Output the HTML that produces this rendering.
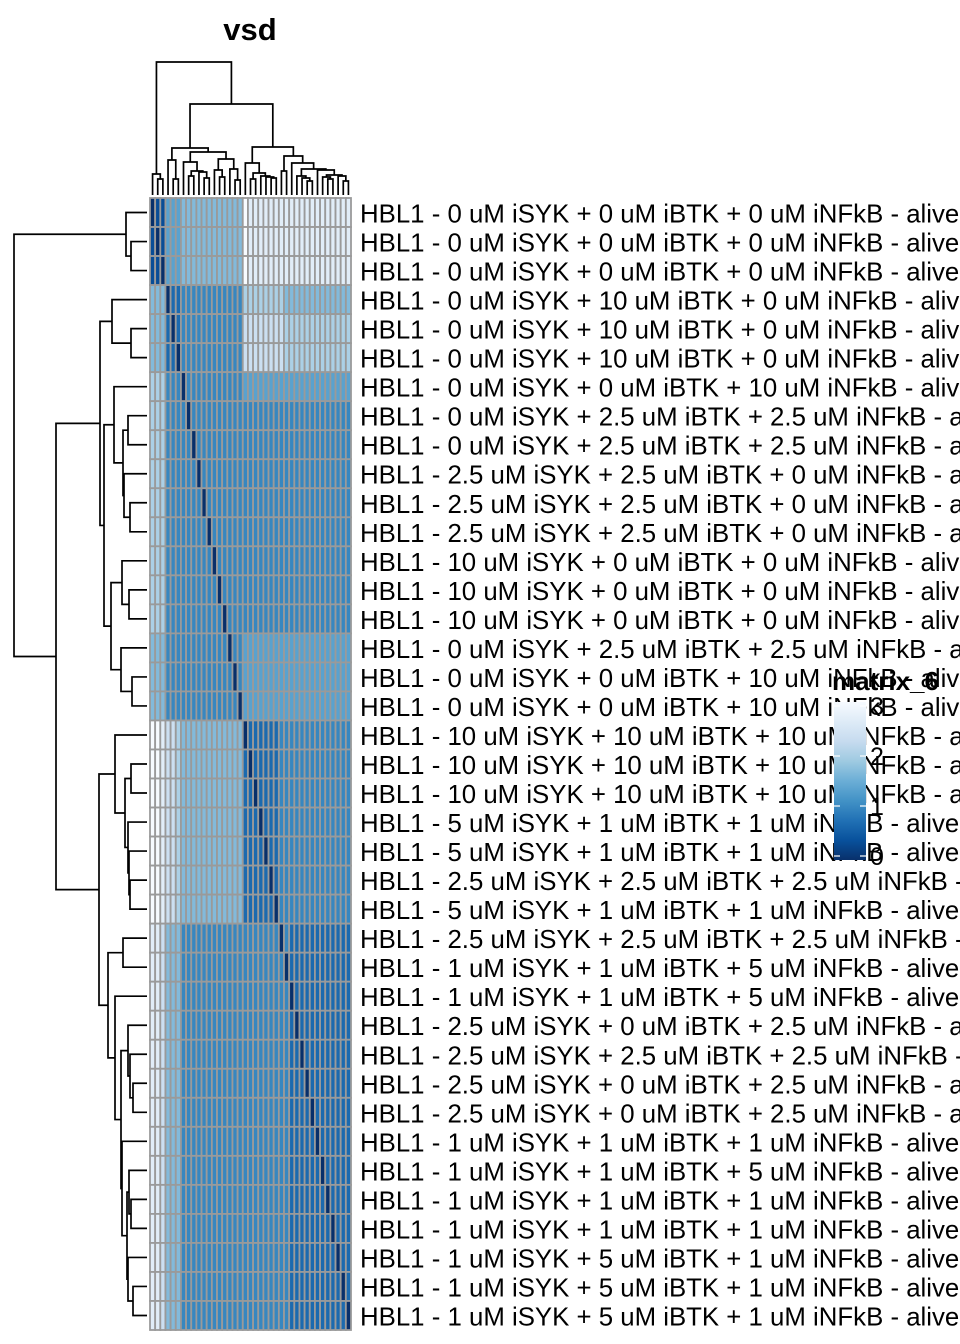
<!DOCTYPE html>
<html><head><meta charset="utf-8"><style>
html,body{margin:0;padding:0;background:#fff;}
svg{display:block;font-family:"Liberation Sans",Arial,sans-serif;}
</style></head><body>
<svg id="chart" width="960" height="1344" viewBox="0 0 960 1344">
<text x="250" y="40" text-anchor="middle" font-size="31" font-weight="bold">vsd</text>
<g id="rowdend"></g>
<g id="coldend"></g>
<g id="cells"></g>
<g id="labels"></g>
<g id="legend"></g>
</svg>
<script>
// matrix values: each digit d -> value d/3 (range 0..3)
const matrixRows = [
"011444555555555555988888888888888888888",
"101444555555555555988888888888888888888",
"110444555555555555988888888888888888888",
"555022333333333333666666665555555555555",
"555202333333333333777777776666666666666",
"555220333333333333777777776666666666666",
"666333033333333333444444444444444444444",
"666333303333333333333333333333333333333",
"666333330333333333333333333333333333333",
"666333333033333333333333333333333333333",
"666333333303333333333333333333333333333",
"666333333330333333333333333333333333333",
"666333333333033333333333333333333333333",
"666333333333303333333333333333333333333",
"666333333333330333333333333333333333333",
"555333333333333033444444444444444444444",
"555333333333333303444444444444444444444",
"555333333333333330444444444444444444444",
"998776555555555555022222233333333333333",
"998776555555555555202222233333333333333",
"998776555555555555220222233333333333333",
"998776555555555555222022233333333333333",
"998776555555555555222202233333333333333",
"998776555555555555222220233333333333333",
"998776555555555555222222033333333333333",
"887555333333333333333333303222222222222",
"887555333333333333333333330222222222222",
"887555333333333333333333333022222222222",
"887555333333333333333333333202222222222",
"887555333333333333333333333220222222222",
"887555333333333333333333333222022222222",
"887555333333333333333333333222202222222",
"887555333333333333333333333222220222222",
"887555333333333333333333333222222022222",
"887555333333333333333333333222222202222",
"887555333333333333333333333222222220222",
"887555333333333333333333333222222222022",
"887555333333333333333333333222222222202",
"887555333333333333333333333222222222220"
];
const rowLabels = [
"HBL1 - 0 uM iSYK + 0 uM iBTK + 0 uM iNFkB - alive",
"HBL1 - 0 uM iSYK + 0 uM iBTK + 0 uM iNFkB - alive",
"HBL1 - 0 uM iSYK + 0 uM iBTK + 0 uM iNFkB - alive",
"HBL1 - 0 uM iSYK + 10 uM iBTK + 0 uM iNFkB - alive",
"HBL1 - 0 uM iSYK + 10 uM iBTK + 0 uM iNFkB - alive",
"HBL1 - 0 uM iSYK + 10 uM iBTK + 0 uM iNFkB - alive",
"HBL1 - 0 uM iSYK + 0 uM iBTK + 10 uM iNFkB - alive",
"HBL1 - 0 uM iSYK + 2.5 uM iBTK + 2.5 uM iNFkB - alive",
"HBL1 - 0 uM iSYK + 2.5 uM iBTK + 2.5 uM iNFkB - alive",
"HBL1 - 2.5 uM iSYK + 2.5 uM iBTK + 0 uM iNFkB - alive",
"HBL1 - 2.5 uM iSYK + 2.5 uM iBTK + 0 uM iNFkB - alive",
"HBL1 - 2.5 uM iSYK + 2.5 uM iBTK + 0 uM iNFkB - alive",
"HBL1 - 10 uM iSYK + 0 uM iBTK + 0 uM iNFkB - alive",
"HBL1 - 10 uM iSYK + 0 uM iBTK + 0 uM iNFkB - alive",
"HBL1 - 10 uM iSYK + 0 uM iBTK + 0 uM iNFkB - alive",
"HBL1 - 0 uM iSYK + 2.5 uM iBTK + 2.5 uM iNFkB - alive",
"HBL1 - 0 uM iSYK + 0 uM iBTK + 10 uM iNFkB - alive",
"HBL1 - 0 uM iSYK + 0 uM iBTK + 10 uM iNFkB - alive",
"HBL1 - 10 uM iSYK + 10 uM iBTK + 10 uM iNFkB - alive",
"HBL1 - 10 uM iSYK + 10 uM iBTK + 10 uM iNFkB - alive",
"HBL1 - 10 uM iSYK + 10 uM iBTK + 10 uM iNFkB - alive",
"HBL1 - 5 uM iSYK + 1 uM iBTK + 1 uM iNFkB - alive",
"HBL1 - 5 uM iSYK + 1 uM iBTK + 1 uM iNFkB - alive",
"HBL1 - 2.5 uM iSYK + 2.5 uM iBTK + 2.5 uM iNFkB - alive",
"HBL1 - 5 uM iSYK + 1 uM iBTK + 1 uM iNFkB - alive",
"HBL1 - 2.5 uM iSYK + 2.5 uM iBTK + 2.5 uM iNFkB - alive",
"HBL1 - 1 uM iSYK + 1 uM iBTK + 5 uM iNFkB - alive",
"HBL1 - 1 uM iSYK + 1 uM iBTK + 5 uM iNFkB - alive",
"HBL1 - 2.5 uM iSYK + 0 uM iBTK + 2.5 uM iNFkB - alive",
"HBL1 - 2.5 uM iSYK + 2.5 uM iBTK + 2.5 uM iNFkB - alive",
"HBL1 - 2.5 uM iSYK + 0 uM iBTK + 2.5 uM iNFkB - alive",
"HBL1 - 2.5 uM iSYK + 0 uM iBTK + 2.5 uM iNFkB - alive",
"HBL1 - 1 uM iSYK + 1 uM iBTK + 1 uM iNFkB - alive",
"HBL1 - 1 uM iSYK + 1 uM iBTK + 5 uM iNFkB - alive",
"HBL1 - 1 uM iSYK + 1 uM iBTK + 1 uM iNFkB - alive",
"HBL1 - 1 uM iSYK + 1 uM iBTK + 1 uM iNFkB - alive",
"HBL1 - 1 uM iSYK + 5 uM iBTK + 1 uM iNFkB - alive",
"HBL1 - 1 uM iSYK + 5 uM iBTK + 1 uM iNFkB - alive",
"HBL1 - 1 uM iSYK + 5 uM iBTK + 1 uM iNFkB - alive"
];
// dendrogram: [height, left, right]; leaves are indices
const dendroTree = [136,
  [24, 0, [19, 1, 2]],
  [94,
    [50,
      [38, 3, [19, 4, 5]],
      [46,
        [36, 6, [27, [22, 7, 8], [26, 9, [20, 10, 11]]]],
        [39, [28, 12, [21, 13, 14]], [29, 15, [18, 16, 17]]]]],
    [51,
      [35, 18, [25, [19, 19, 20], [22, 21, [21, 22, [20, 23, 24]]]]],
      [42, [27, 25, 26],
        [35, 27,
          [29, [22, 28, [20, 29, [17, 30, 31]]],
                [28, 32, [23, [21, 33, [19, 34, 35]], [22, 36, [17, 37, 38]]]]]]]]]];
const legendTicks = [0, 1, 2, 3];
const legendTitle = "matrix_6";

const NS = "http://www.w3.org/2000/svg";
const HX0 = 150, HX1 = 351, HY0 = 198, HY1 = 1330;
const nR = matrixRows.length, nC = matrixRows[0].length;
const cw = (HX1 - HX0) / nC, rh = (HY1 - HY0) / nR;
const vmin = 0, vmax = 3;
const stops = ["#08306b","#08519c","#2171b5","#4292c6","#6baed6","#9ecae1","#c6dbef","#deebf7","#f7fbff"];
function hex(h){return [1,3,5].map(i=>parseInt(h.substr(i,2),16));}
function color(v){
  let t = (v - vmin) / (vmax - vmin); t = Math.max(0, Math.min(1, t));
  const p = t * (stops.length - 1), i = Math.min(stops.length - 2, Math.floor(p)), f = p - i;
  const a = hex(stops[i]), b = hex(stops[i+1]);
  return "rgb(" + a.map((x,k)=>Math.round(x + (b[k]-x)*f)).join(",") + ")";
}
function xCol(j){return HX0 + j * cw;}
function yRow(i){return HY0 + i * rh;}
function mk(tag, attrs, parent){const e=document.createElementNS(NS,tag);for(const k in attrs)e.setAttribute(k,attrs[k]);parent.appendChild(e);return e;}

const cells = document.getElementById("cells");
for (let i = 0; i < nR; i++) {
  for (let j = 0; j < nC; j++) {
    const v = parseInt(matrixRows[i][j]) / 3;
    const r = mk("rect", {x: xCol(j), y: yRow(i), width: cw, height: rh, fill: color(v), stroke: "#9a9a9a", "stroke-width": 1.8}, cells);
    
    
  }
}
const labels = document.getElementById("labels");
rowLabels.forEach((t, i) => {
  const e = mk("text", {x: 360, y: yRow(i) + rh/2 + 10, "font-size": 25.8, fill: "#000"}, labels);
  e.textContent = t;
  
  
});
function drawTree(node, g, horizontal) {
  if (typeof node === "number") {
    return [horizontal ? yRow(node) + rh/2 : xCol(node) + cw/2, 0];
  }
  const [h, l, r] = node;
  const a = drawTree(l, g, horizontal), b = drawTree(r, g, horizontal);
  let d;
  if (horizontal) {
    const X = v => v === 0 ? HX0 - 3 : HX0 - v;
    const xn = HX0 - h;
    d = `M${X(a[1])},${a[0]} H${xn} V${b[0]} H${X(b[1])}`;
  } else {
    const Y = v => v === 0 ? HY0 - 3 : HY0 - v;
    const yn = HY0 - h;
    d = `M${a[0]},${Y(a[1])} V${yn} H${b[0]} V${Y(b[1])}`;
  }
  const p = mk("path", {d: d, fill: "none", stroke: "#000", "stroke-width": 1.7}, g);
  
  
  return [(a[0] + b[0]) / 2, h];
}
drawTree(dendroTree, document.getElementById("rowdend"), true);
drawTree(dendroTree, document.getElementById("coldend"), false);

const lg = document.getElementById("legend");
const LX = 834, LW = 32, LY0 = 706, LY1 = 856;
const defs = mk("defs", {}, lg);
const grad = mk("linearGradient", {id: "lgrad", x1: 0, y1: 1, x2: 0, y2: 0}, defs);
stops.forEach((c, k) => mk("stop", {offset: (k/(stops.length-1)*100) + "%", "stop-color": c}, grad));
const lt = mk("text", {x: LX - 2, y: 690, "font-size": 26, "font-weight": "bold"}, lg);
lt.textContent = legendTitle;


const bar = mk("rect", {x: LX, y: LY0 - 4, width: LW, height: LY1 - LY0 + 8, fill: "url(#lgrad)"}, lg);


function yLeg(v){return LY1 - (v - vmin) / (vmax - vmin) * (LY1 - LY0);}
legendTicks.forEach(v => {
  const y = yLeg(v);
  mk("line", {x1: LX, x2: LX + 6, y1: y, y2: y, stroke: "#fff", "stroke-width": 1.2}, lg);
  mk("line", {x1: LX + LW - 6, x2: LX + LW, y1: y, y2: y, stroke: "#fff", "stroke-width": 1.2}, lg);
  const t = mk("text", {x: LX + LW + 4, y: y + 9, "font-size": 25}, lg);
  t.textContent = String(v);
  
  
});
</script>
</body></html>
